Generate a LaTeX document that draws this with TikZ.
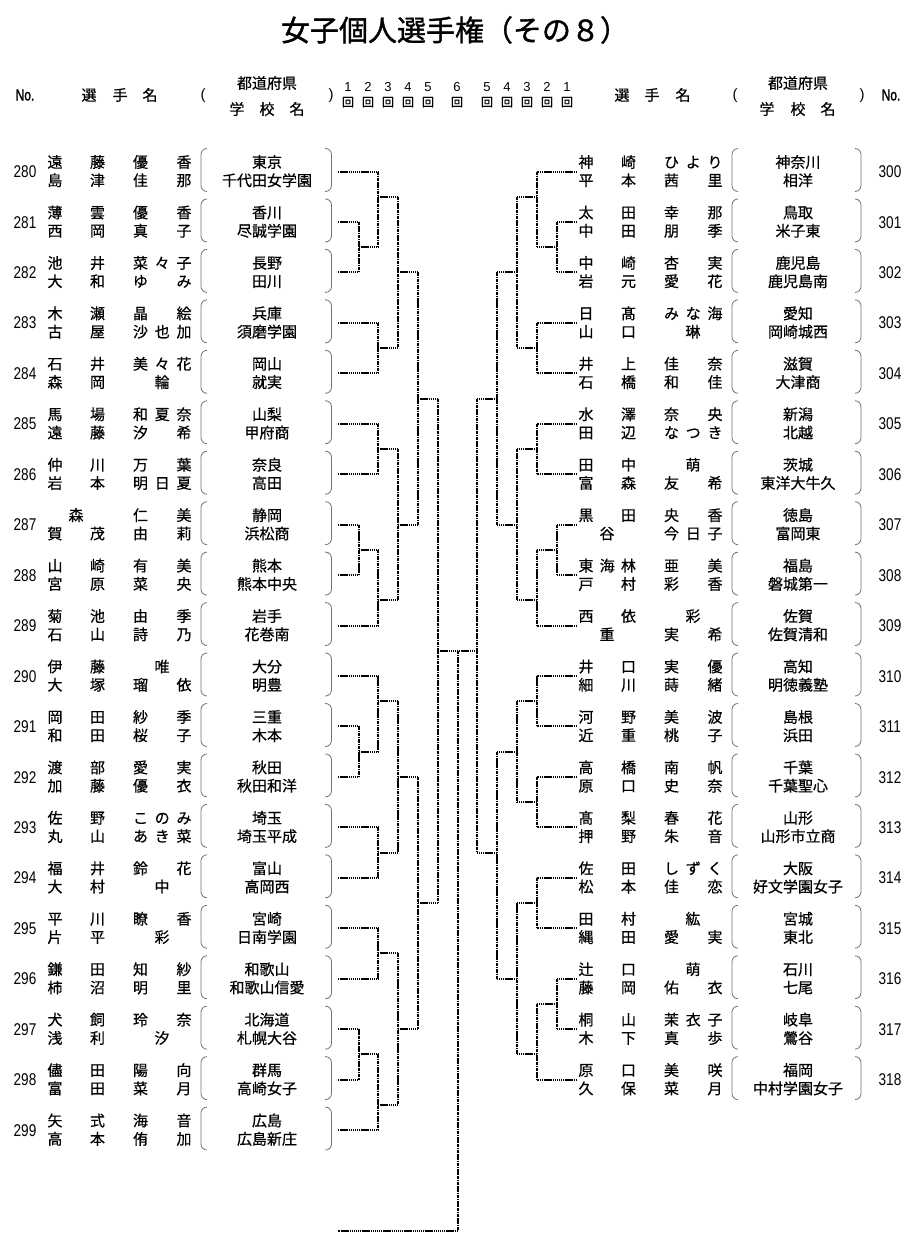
\documentclass[tikz,border=0pt]{standalone}
\usepackage{fontspec}
\newfontfamily\jp{Noto Sans CJK JP}[FakeBold=0.5]
\newfontfamily\jpt{Noto Sans CJK JP}[FakeBold=1.2]
\newfontfamily\nums{Liberation Sans}[FakeStretch=0.8]
\newfontfamily\nob{Liberation Sans}[FakeStretch=0.75,FakeBold=1.5]
\newfontfamily\hdr{Liberation Sans}
\tikzset{
  jpn/.style={font=\jp\fontsize{15}{15}\selectfont, inner sep=0pt, anchor=base},
  jph/.style={font=\jp\fontsize{15}{15}\selectfont, inner sep=0pt, anchor=base},
  kai/.style={font=\jp\fontsize{12}{12}\selectfont, inner sep=0pt, anchor=base},
  rnum/.style={font=\hdr\fontsize{13}{13}\selectfont, inner sep=0pt, anchor=base},
  numf/.style={font=\nums\fontsize{17}{17}\selectfont, inner sep=0pt, anchor=base},
  nohead/.style={font=\nob\fontsize{16}{16}\selectfont, inner sep=0pt, anchor=base},
  paren/.style={font=\hdr\fontsize{15}{15}\selectfont, inner sep=0pt, anchor=base},
  hl/.style={line width=2pt, dash pattern=on 1.4pt off 0.7pt},
  vl/.style={line width=2.2pt, dash pattern=on 3.5pt off 0.8pt on 1.3pt off 0.8pt},
  pb/.style={draw=black!55, line width=0.8pt, rounded corners=6pt},
}
% side parameters
\def\LnameX{55}\def\LschX{267}\def\LnoX{25}\def\LpA{201}\def\LpB{207}\def\LpC{331.5}\def\LpD{325}\def\LlineX{338}
\def\RnameX{586}\def\RschX{798}\def\RnoX{890}\def\RpA{732}\def\RpB{738}\def\RpC{861}\def\RpD{855}\def\RlineX{577}
% one name line: #1 prefix, #2 base x, #3 baseline y, #4 surname, #5 given
\newcommand\jname[5]{%
  \foreach \ch [count=\nn] in {#4} {\xdef\slen{\nn}}%
  \foreach \ch [count=\ii] in {#4} {%
    \pgfmathsetmacro\px{#2+(\slen==1 ? 21 : (\slen==2 ? 42.5*(\ii-1) : 21.25*(\ii-1)))}%
    \node[jpn] (#1s\ii) at (\px,#3) {\ch};}%
  \foreach \ch [count=\nn] in {#5} {\xdef\glen{\nn}}%
  \foreach \ch [count=\ii] in {#5} {%
    \pgfmathsetmacro\px{#2+(\glen==1 ? 107 : (\glen==2 ? 85.5+43.5*(\ii-1) : 85.5+21.75*(\ii-1)))}%
    \node[jpn] (#1g\ii) at (\px,#3) {\ch};}%
}
% one entry row: #1 id, #2 k, #3 side, #4 ts, #5 tg, #6 bs, #7 bg, #8 pref, #9 school
\newcommand\jrow[9]{%
  \pgfmathsetmacro\cy{171.5+50.45*#2}%
  \pgfmathsetmacro\ty{-\cy+9.5-5.7}%
  \pgfmathsetmacro\by{-\cy-8.8-5.7}%
  \pgfmathsetmacro\nby{-\cy-6.1}%
  \pgfmathsetmacro\pt{-\cy+23}%
  \pgfmathsetmacro\pbt{-\cy-20}%
  \edef\nx{\csname #3nameX\endcsname}%
  \edef\sx{\csname #3schX\endcsname}%
  \edef\ox{\csname #3noX\endcsname}%
  \edef\pa{\csname #3pA\endcsname}\edef\pb{\csname #3pB\endcsname}%
  \edef\pc{\csname #3pC\endcsname}\edef\pd{\csname #3pD\endcsname}%
  \edef\lx{\csname #3lineX\endcsname}%
  \jname{n#1a}{\nx}{\ty}{#4}{#5}%
  \jname{n#1b}{\nx}{\by}{#6}{#7}%
  \node[jpn] (pf#1) at (\sx,\ty) {#8};%
  \node[jpn] (sc#1) at (\sx,\by) {#9};%
  \node[numf] (no#1) at (\ox,\nby) {#1};%
  \draw[pb] (\pb,\pt) -- (\pa,\pt) -- (\pa,\pbt) -- (\pb,\pbt);%
  \draw[pb] (\pd,\pt) -- (\pc,\pt) -- (\pc,\pbt) -- (\pd,\pbt);%
  \coordinate (p#1) at (\lx,-\cy);%
}
% match: #1 child A, #2 child B, #3 column, #4 output name, #5 output row k
\newcommand\match[5]{%
  \draw[hl] (#1) -- (#1 -| #3);%
  \draw[hl] (#2) -- (#2 -| #3);%
  \draw[vl] (#1 -| #3) -- (#2 -| #3);%
  \path (#3) ++(0,{-(171.5+50.45*#5)}) coordinate (#4);%
}
\begin{document}
\begin{tikzpicture}[x=1pt,y=1pt]
\fill[white] (0,0) rectangle (915,-1256);
\useasboundingbox (0,0) rectangle (915,-1256);
% title
\node[font=\jpt\fontsize{29}{29}\selectfont, inner sep=0pt, anchor=base] (title) at (455,-41) {女子個人選手権（その８）};
% header left
\node[nohead] (hnoL) at (25,-100.5) {No.};
\node[jph] (hsL1) at (89,-100.7) {選};
\node[jph] (hsL2) at (120,-100.7) {手};
\node[jph] (hsL3) at (150,-100.7) {名};
\node[paren] (hpL1) at (203,-99) {(};
\node[jph] (hpfL) at (267,-88.7) {都道府県};
\node[jph] (hgL1) at (237,-114.7) {学};
\node[jph] (hgL2) at (267,-114.7) {校};
\node[jph] (hgL3) at (297,-114.7) {名};
\node[paren] (hpL2) at (331,-99) {)};
% header right
\node[jph] (hsR1) at (622,-100.7) {選};
\node[jph] (hsR2) at (652,-100.7) {手};
\node[jph] (hsR3) at (683,-100.7) {名};
\node[paren] (hpR1) at (735,-99) {(};
\node[jph] (hpfR) at (798,-88.7) {都道府県};
\node[jph] (hgR1) at (767,-114.7) {学};
\node[jph] (hgR2) at (798,-114.7) {校};
\node[jph] (hgR3) at (828,-114.7) {名};
\node[paren] (hpR2) at (862,-99) {)};
\node[nohead] (hnoR) at (891,-100.5) {No.};
% round headers
\foreach \rx/\rn [count=\q] in {348/1,368/2,388/3,408/4,428/5,457/6,487/5,507/4,527/3,547/2,567/1}{
  \node[rnum] (rd\q) at (\rx,-91.5) {\rn};
  \node[kai] (rk\q) at (\rx,-106.5) {回};
}
% left entries
\jrow{280}{0}{L}{遠,藤}{優,香}{島,津}{佳,那}{東京}{千代田女学園}
\jrow{281}{1}{L}{薄,雲}{優,香}{西,岡}{真,子}{香川}{尽誠学園}
\jrow{282}{2}{L}{池,井}{菜,々,子}{大,和}{ゆ,み}{長野}{田川}
\jrow{283}{3}{L}{木,瀬}{晶,絵}{古,屋}{沙,也,加}{兵庫}{須磨学園}
\jrow{284}{4}{L}{石,井}{美,々,花}{森,岡}{輪}{岡山}{就実}
\jrow{285}{5}{L}{馬,場}{和,夏,奈}{遠,藤}{汐,希}{山梨}{甲府商}
\jrow{286}{6}{L}{仲,川}{万,葉}{岩,本}{明,日,夏}{奈良}{高田}
\jrow{287}{7}{L}{森}{仁,美}{賀,茂}{由,莉}{静岡}{浜松商}
\jrow{288}{8}{L}{山,崎}{有,美}{宮,原}{菜,央}{熊本}{熊本中央}
\jrow{289}{9}{L}{菊,池}{由,季}{石,山}{詩,乃}{岩手}{花巻南}
\jrow{290}{10}{L}{伊,藤}{唯}{大,塚}{瑠,依}{大分}{明豊}
\jrow{291}{11}{L}{岡,田}{紗,季}{和,田}{桜,子}{三重}{木本}
\jrow{292}{12}{L}{渡,部}{愛,実}{加,藤}{優,衣}{秋田}{秋田和洋}
\jrow{293}{13}{L}{佐,野}{こ,の,み}{丸,山}{あ,き,菜}{埼玉}{埼玉平成}
\jrow{294}{14}{L}{福,井}{鈴,花}{大,村}{中}{富山}{高岡西}
\jrow{295}{15}{L}{平,川}{瞭,香}{片,平}{彩}{宮崎}{日南学園}
\jrow{296}{16}{L}{鎌,田}{知,紗}{柿,沼}{明,里}{和歌山}{和歌山信愛}
\jrow{297}{17}{L}{犬,飼}{玲,奈}{浅,利}{汐}{北海道}{札幌大谷}
\jrow{298}{18}{L}{儘,田}{陽,向}{富,田}{菜,月}{群馬}{高崎女子}
\jrow{299}{19}{L}{矢,式}{海,音}{高,本}{侑,加}{広島}{広島新庄}
% right entries
\jrow{300}{0}{R}{神,崎}{ひ,よ,り}{平,本}{茜,里}{神奈川}{相洋}
\jrow{301}{1}{R}{太,田}{幸,那}{中,田}{朋,季}{鳥取}{米子東}
\jrow{302}{2}{R}{中,崎}{杏,実}{岩,元}{愛,花}{鹿児島}{鹿児島南}
\jrow{303}{3}{R}{日,髙}{み,な,海}{山,口}{琳}{愛知}{岡崎城西}
\jrow{304}{4}{R}{井,上}{佳,奈}{石,橋}{和,佳}{滋賀}{大津商}
\jrow{305}{5}{R}{水,澤}{奈,央}{田,辺}{な,つ,き}{新潟}{北越}
\jrow{306}{6}{R}{田,中}{萌}{富,森}{友,希}{茨城}{東洋大牛久}
\jrow{307}{7}{R}{黒,田}{央,香}{谷}{今,日,子}{徳島}{富岡東}
\jrow{308}{8}{R}{東,海,林}{亜,美}{戸,村}{彩,香}{福島}{磐城第一}
\jrow{309}{9}{R}{西,依}{彩}{重}{実,希}{佐賀}{佐賀清和}
\jrow{310}{10}{R}{井,口}{実,優}{細,川}{蒔,緒}{高知}{明徳義塾}
\jrow{311}{11}{R}{河,野}{美,波}{近,重}{桃,子}{島根}{浜田}
\jrow{312}{12}{R}{高,橋}{南,帆}{原,口}{史,奈}{千葉}{千葉聖心}
\jrow{313}{13}{R}{髙,梨}{春,花}{押,野}{朱,音}{山形}{山形市立商}
\jrow{314}{14}{R}{佐,田}{し,ず,く}{松,本}{佳,恋}{大阪}{好文学園女子}
\jrow{315}{15}{R}{田,村}{紘}{縄,田}{愛,実}{宮城}{東北}
\jrow{316}{16}{R}{辻,口}{萌}{藤,岡}{佑,衣}{石川}{七尾}
\jrow{317}{17}{R}{桐,山}{茉,衣,子}{木,下}{真,歩}{岐阜}{鶯谷}
\jrow{318}{18}{R}{原,口}{美,咲}{久,保}{菜,月}{福岡}{中村学園女子}
% bracket columns
\coordinate (cL1) at (359,0);
\coordinate (cL2) at (378,0);
\coordinate (cL3) at (398,0);
\coordinate (cL4) at (418,0);
\coordinate (cL5) at (438,0);
\coordinate (cF)  at (458,0);
\coordinate (cR5) at (477,0);
\coordinate (cR4) at (497,0);
\coordinate (cR3) at (517,0);
\coordinate (cR2) at (537,0);
\coordinate (cR1) at (557,0);
% left half
\match{p281}{p282}{cL1}{a1}{1.5}
\match{p280}{a1}{cL2}{a2}{0.5}
\match{p283}{p284}{cL2}{a3}{3.5}
\match{a2}{a3}{cL3}{a4}{2}
\match{p285}{p286}{cL2}{a5}{5.5}
\match{p287}{p288}{cL1}{a6}{7.5}
\match{a6}{p289}{cL2}{a7}{8.5}
\match{a5}{a7}{cL3}{a8}{7}
\match{a4}{a8}{cL4}{a9}{4.5}
\match{p291}{p292}{cL1}{b1}{11.5}
\match{p290}{b1}{cL2}{b2}{10.5}
\match{p293}{p294}{cL2}{b3}{13.5}
\match{b2}{b3}{cL3}{b4}{12}
\match{p295}{p296}{cL2}{b5}{15.5}
\match{p297}{p298}{cL1}{b6}{17.5}
\match{b6}{p299}{cL2}{b7}{18.5}
\match{b5}{b7}{cL3}{b8}{17}
\match{b4}{b8}{cL4}{b9}{14.5}
\match{a9}{b9}{cL5}{LW}{9.5}
% right half
\match{p301}{p302}{cR1}{e1}{1.5}
\match{p300}{e1}{cR2}{e2}{0.5}
\match{p303}{p304}{cR2}{e3}{3.5}
\match{e2}{e3}{cR3}{e4}{2}
\match{p305}{p306}{cR2}{e5}{5.5}
\match{p307}{p308}{cR1}{e6}{7.5}
\match{e6}{p309}{cR2}{e7}{8.5}
\match{e5}{e7}{cR3}{e8}{7}
\match{e4}{e8}{cR4}{e9}{4.5}
\match{p310}{p311}{cR2}{d1}{10.5}
\match{p312}{p313}{cR2}{d2}{12.5}
\match{d1}{d2}{cR3}{d3}{11.5}
\match{p314}{p315}{cR2}{d4}{14.5}
\match{p316}{p317}{cR1}{d5}{16.5}
\match{d5}{p318}{cR2}{d6}{17.5}
\match{d4}{d6}{cR3}{d7}{16}
\match{d3}{d7}{cR4}{d8}{13.5}
\match{e9}{d8}{cR5}{RW}{9.5}
% final
\coordinate (fin) at (338,{-(171.5+50.45*21)});
\draw[hl] (LW) -- (RW);
\draw[vl] (LW -| cF) -- (cF |- fin);
\draw[hl] (cF |- fin) -- (fin);
\end{tikzpicture}
\end{document}
